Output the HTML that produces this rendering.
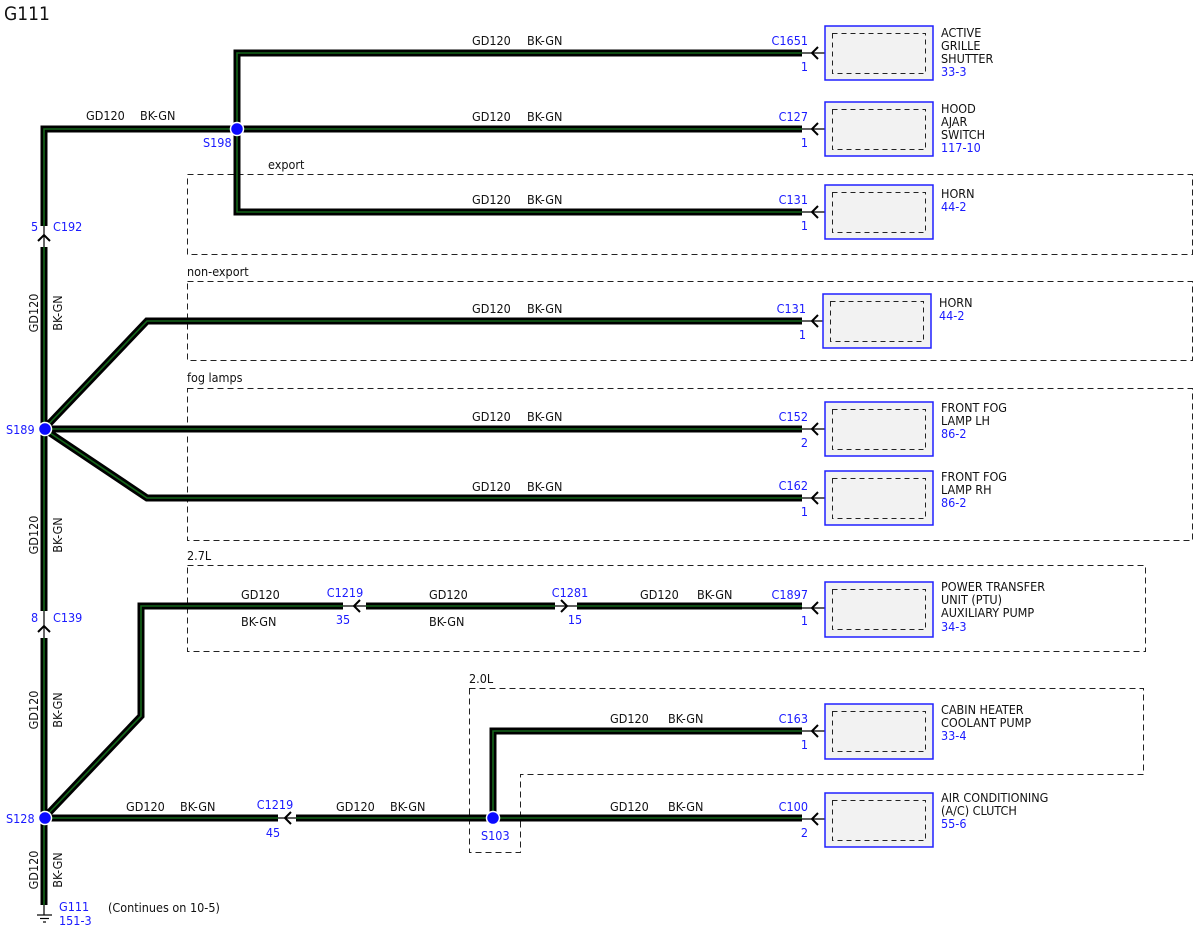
<!DOCTYPE html>
<html><head><meta charset="utf-8"><style>
html,body{margin:0;padding:0;background:#fff}
svg{display:block}
text{font-family:"DejaVu Sans Condensed","Liberation Sans",sans-serif;font-size:12.5px;fill:#111}
.b{fill:#1a1aff}
.w1{fill:none;stroke:#000;stroke-width:7;stroke-linejoin:miter}
.w2{fill:none;stroke:#14661a;stroke-width:1.6;stroke-linejoin:miter}
.d{fill:none;stroke:#222;stroke-width:1;stroke-dasharray:6,4}
.box{fill:#f2f2f2;stroke:#2020ff;stroke-width:1.5}
.in{fill:none;stroke:#222;stroke-width:1;stroke-dasharray:5,4}
.t{fill:none;stroke:#000;stroke-width:1.2}
.a{fill:none;stroke:#000;stroke-width:2}
</style></head><body>
<svg width="1200" height="927" viewBox="0 0 1200 927" xmlns="http://www.w3.org/2000/svg">
<text x="4" y="20" style="font-size:19px">G111</text>

<rect class="d" x="187.5" y="174.5" width="1005" height="80"/>
<rect class="d" x="187.5" y="281.5" width="1005" height="79"/>
<rect class="d" x="187.5" y="388.5" width="1005" height="152"/>
<rect class="d" x="187.5" y="565.5" width="958" height="86"/>
<path class="d" d="M469.5,688.5 H1143.5 V774.5 H520.5 V852.5 H469.5 Z"/>
<text x="268" y="169">export</text>
<text x="187" y="276">non-export</text>
<text x="187" y="382">fog lamps</text>
<text x="187" y="560">2.7L</text>
<text x="469" y="683">2.0L</text>

<g>
<polyline class="w1" points="44,226 44,129 237,129"/>
<polyline class="w1" points="802,53 237,53 237,212 802,212"/>
<polyline class="w1" points="237,129 802,129"/>
<polyline class="w1" points="44,247 44,611"/>
<polyline class="w1" points="44,638 44,905"/>
<polyline class="w1" points="44,429 147,321 802,321"/>
<polyline class="w1" points="44,429 802,429"/>
<polyline class="w1" points="44,429 147,498 802,498"/>
<polyline class="w1" points="44,818 141,716 141,606 343,606"/>
<polyline class="w1" points="366,606 555,606"/>
<polyline class="w1" points="577,606 802,606"/>
<polyline class="w1" points="44,818 278,818"/>
<polyline class="w1" points="296,818 802,818"/>
<polyline class="w1" points="493,818 493,731 802,731"/>
<polyline class="w2" points="44,226 44,129 237,129"/>
<polyline class="w2" points="802,53 237,53 237,212 802,212"/>
<polyline class="w2" points="237,129 802,129"/>
<polyline class="w2" points="44,247 44,611"/>
<polyline class="w2" points="44,638 44,905"/>
<polyline class="w2" points="44,429 147,321 802,321"/>
<polyline class="w2" points="44,429 802,429"/>
<polyline class="w2" points="44,429 147,498 802,498"/>
<polyline class="w2" points="44,818 141,716 141,606 343,606"/>
<polyline class="w2" points="366,606 555,606"/>
<polyline class="w2" points="577,606 802,606"/>
<polyline class="w2" points="44,818 278,818"/>
<polyline class="w2" points="296,818 802,818"/>
<polyline class="w2" points="493,818 493,731 802,731"/>
</g>

<line class="t" x1="44" y1="226" x2="44" y2="247"/>
<path class="a" d="M38,241 L44,235 L50,241"/>
<line class="t" x1="44" y1="611" x2="44" y2="638"/>
<path class="a" d="M38,632 L44,626 L50,632"/>
<line class="t" x1="343" y1="606" x2="366" y2="606"/>
<path class="a" d="M360,600 L354,606 L360,612"/>
<line class="t" x1="555" y1="606" x2="577" y2="606"/>
<path class="a" d="M561,600 L567,606 L561,612"/>
<line class="t" x1="278" y1="818" x2="296" y2="818"/>
<path class="a" d="M291,812 L285,818 L291,824"/>
<line class="t" x1="44" y1="905" x2="44" y2="915"/>
<line class="t" x1="37" y1="915" x2="52" y2="915"/>
<line class="t" x1="40" y1="918.5" x2="49" y2="918.5"/>
<line class="t" x1="43" y1="922" x2="46" y2="922"/>

<g>
<line class="t" x1="802" y1="53" x2="832" y2="53"/><path class="a" d="M818,47 L812,53 L818,59"/>
<rect class="box" x="825" y="26" width="108" height="54"/><rect class="in" x="832.5" y="33.5" width="93" height="40"/>
<line class="t" x1="802" y1="129" x2="832" y2="129"/><path class="a" d="M818,123 L812,129 L818,135"/>
<rect class="box" x="825" y="102" width="108" height="54"/><rect class="in" x="832.5" y="109.5" width="93" height="40"/>
<line class="t" x1="802" y1="212" x2="832" y2="212"/><path class="a" d="M818,206 L812,212 L818,218"/>
<rect class="box" x="825" y="185" width="108" height="54"/><rect class="in" x="832.5" y="192.5" width="93" height="40"/>
<line class="t" x1="802" y1="321" x2="830" y2="321"/><path class="a" d="M818,315 L812,321 L818,327"/>
<rect class="box" x="823" y="294" width="108" height="54"/><rect class="in" x="830.5" y="301.5" width="93" height="40"/>
<line class="t" x1="802" y1="429" x2="832" y2="429"/><path class="a" d="M818,423 L812,429 L818,435"/>
<rect class="box" x="825" y="402" width="108" height="54"/><rect class="in" x="832.5" y="409.5" width="93" height="40"/>
<line class="t" x1="802" y1="498" x2="832" y2="498"/><path class="a" d="M818,492 L812,498 L818,504"/>
<rect class="box" x="825" y="471" width="108" height="54"/><rect class="in" x="832.5" y="478.5" width="93" height="40"/>
<line class="t" x1="802" y1="608" x2="832" y2="608"/><path class="a" d="M818,602 L812,608 L818,614"/>
<rect class="box" x="825" y="582" width="108" height="55"/><rect class="in" x="832.5" y="589.5" width="93" height="40"/>
<line class="t" x1="802" y1="731" x2="832" y2="731"/><path class="a" d="M818,725 L812,731 L818,737"/>
<rect class="box" x="825" y="704" width="108" height="55"/><rect class="in" x="832.5" y="711.5" width="93" height="40"/>
<line class="t" x1="802" y1="819" x2="832" y2="819"/><path class="a" d="M818,813 L812,819 L818,825"/>
<rect class="box" x="825" y="793" width="108" height="54"/><rect class="in" x="832.5" y="800.5" width="93" height="40"/>
</g>

<text x="941" y="37">ACTIVE</text><text x="941" y="50">GRILLE</text><text x="941" y="63">SHUTTER</text><text class="b" x="941" y="76">33-3</text>
<text x="941" y="113">HOOD</text><text x="941" y="126">AJAR</text><text x="941" y="139">SWITCH</text><text class="b" x="941" y="152">117-10</text>
<text x="941" y="198">HORN</text><text class="b" x="941" y="211">44-2</text>
<text x="939" y="307">HORN</text><text class="b" x="939" y="320">44-2</text>
<text x="941" y="412">FRONT FOG</text><text x="941" y="425">LAMP LH</text><text class="b" x="941" y="438">86-2</text>
<text x="941" y="481">FRONT FOG</text><text x="941" y="494">LAMP RH</text><text class="b" x="941" y="507">86-2</text>
<text x="941" y="591">POWER TRANSFER</text><text x="941" y="604">UNIT (PTU)</text><text x="941" y="617">AUXILIARY PUMP</text><text class="b" x="941" y="631">34-3</text>
<text x="941" y="714">CABIN HEATER</text><text x="941" y="727">COOLANT PUMP</text><text class="b" x="941" y="740">33-4</text>
<text x="941" y="802">AIR CONDITIONING</text><text x="941" y="815">(A/C) CLUTCH</text><text class="b" x="941" y="828">55-6</text>

<g text-anchor="end">
<text class="b" x="808" y="45">C1651</text><text class="b" x="808" y="71">1</text>
<text class="b" x="808" y="121">C127</text><text class="b" x="808" y="147">1</text>
<text class="b" x="808" y="204">C131</text><text class="b" x="808" y="230">1</text>
<text class="b" x="806" y="313">C131</text><text class="b" x="806" y="339">1</text>
<text class="b" x="808" y="421">C152</text><text class="b" x="808" y="447">2</text>
<text class="b" x="808" y="490">C162</text><text class="b" x="808" y="516">1</text>
<text class="b" x="808" y="599">C1897</text><text class="b" x="808" y="625">1</text>
<text class="b" x="808" y="723">C163</text><text class="b" x="808" y="749">1</text>
<text class="b" x="808" y="811">C100</text><text class="b" x="808" y="837">2</text>
</g>
<g text-anchor="middle">
<text class="b" x="345" y="597">C1219</text><text class="b" x="343" y="624">35</text>
<text class="b" x="570" y="597">C1281</text><text class="b" x="575" y="624">15</text>
<text class="b" x="275" y="809">C1219</text><text class="b" x="273" y="837">45</text>
</g>
<text class="b" x="31" y="231">5</text><text class="b" x="53" y="231">C192</text>
<text class="b" x="31" y="622">8</text><text class="b" x="53" y="622">C139</text>
<text class="b" x="203" y="147">S198</text>
<text class="b" x="6" y="434">S189</text>
<text class="b" x="6" y="823">S128</text>
<text class="b" x="481" y="840">S103</text>
<text class="b" x="59" y="911">G111</text><text class="b" x="59" y="925">151-3</text>
<text x="108" y="912">(Continues on 10-5)</text>

<text x="86" y="120">GD120</text><text x="140" y="120">BK-GN</text>
<text x="472" y="45">GD120</text><text x="527" y="45">BK-GN</text>
<text x="472" y="121">GD120</text><text x="527" y="121">BK-GN</text>
<text x="472" y="204">GD120</text><text x="527" y="204">BK-GN</text>
<text x="472" y="313">GD120</text><text x="527" y="313">BK-GN</text>
<text x="472" y="421">GD120</text><text x="527" y="421">BK-GN</text>
<text x="472" y="491">GD120</text><text x="527" y="491">BK-GN</text>
<text x="241" y="599">GD120</text><text x="241" y="626">BK-GN</text>
<text x="429" y="599">GD120</text><text x="429" y="626">BK-GN</text>
<text x="640" y="599">GD120</text><text x="697" y="599">BK-GN</text>
<text x="610" y="723">GD120</text><text x="668" y="723">BK-GN</text>
<text x="126" y="811">GD120</text><text x="180" y="811">BK-GN</text>
<text x="336" y="811">GD120</text><text x="390" y="811">BK-GN</text>
<text x="610" y="811">GD120</text><text x="668" y="811">BK-GN</text>
<g text-anchor="middle">
<text transform="translate(38,313) rotate(-90)">GD120</text><text transform="translate(62,313) rotate(-90)">BK-GN</text>
<text transform="translate(38,535) rotate(-90)">GD120</text><text transform="translate(62,535) rotate(-90)">BK-GN</text>
<text transform="translate(38,710) rotate(-90)">GD120</text><text transform="translate(62,710) rotate(-90)">BK-GN</text>
<text transform="translate(38,870) rotate(-90)">GD120</text><text transform="translate(62,870) rotate(-90)">BK-GN</text>
</g>

<g fill="#0a0aff" stroke="#fff" stroke-width="1.5">
<circle cx="237" cy="129" r="6.5"/>
<circle cx="45" cy="429" r="6.5"/>
<circle cx="45" cy="818" r="6.5"/>
<circle cx="493" cy="818" r="6.5"/>
</g>
</svg>
</body></html>
